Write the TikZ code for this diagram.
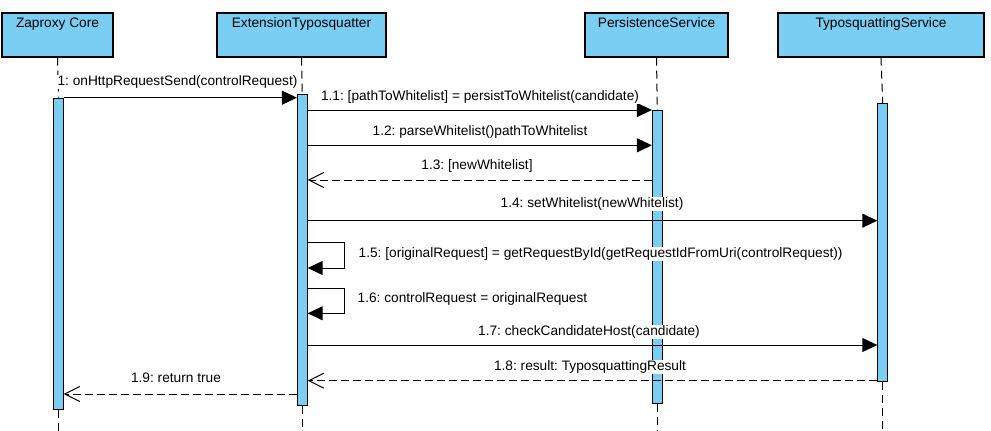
\documentclass[tikz,border=0pt]{standalone}
\usepackage{fontspec}
\setmainfont{Liberation Sans}
\usetikzlibrary{arrows.meta}
\definecolor{lblue}{RGB}{122,206,244}
\begin{document}
\begin{tikzpicture}[x=1pt,y=-1pt,
 head/.style={draw=black, line width=1.2pt, fill=lblue, minimum height=44pt, inner sep=0pt},
 headlbl/.style={anchor=north, inner sep=0pt, yshift=-4.5pt, text height=10pt, text depth=3pt, font=\fontsize{13.7}{16}\selectfont\frenchspacing},
 bar/.style={draw=black, line width=0.8pt, fill=lblue, minimum width=9.5pt, inner sep=0pt, anchor=north},
 life/.style={draw=black, line width=1pt, dash pattern=on 8pt off 5pt},
 msg/.style={draw=black, line width=1pt, -{Triangle[length=15pt,width=14pt]}},
 ret/.style={draw=black, line width=1pt, dash pattern=on 8pt off 4pt, -{Straight Barb[length=15pt,width=15pt]}},
 lbl/.style={anchor=base, fill=white, inner sep=0.5pt, text height=10pt, text depth=3pt, font=\fontsize{13.7}{16}\selectfont\frenchspacing},
 lblw/.style={lbl, anchor=base west}
]
\useasboundingbox (0,0) rectangle (991,431);
\coordinate (bot) at (0,431);
% headers
\node[head, minimum width=111pt, label={[headlbl]north:Zaproxy Core}] (zap) at (57.5,35) {};
\node[head, minimum width=169pt, label={[headlbl]north:ExtensionTyposquatter}] (ext) at (301.5,35) {};
\node[head, minimum width=143pt, label={[headlbl]north:PersistenceService}] (pers) at (656.5,35) {};
\node[head, minimum width=206pt, label={[headlbl]north:TyposquattingService}] (typ) at (881,35) {};
% activation bars
\node[bar, minimum height=311.5pt] (zapbar) at (58.5,97.5) {};
\node[bar, minimum height=311pt, minimum width=10pt] (extbar) at (302.3,94) {};
\node[bar, minimum height=293.3pt, minimum width=10pt] (persbar) at (657.3,110) {};
\node[bar, minimum height=277.7pt, minimum width=10pt] (typbar) at (882.7,103) {};
% lifelines
\draw[life] (zap.south) -- (zapbar.north);
\draw[life] (zapbar.south) -- (zapbar.south |- bot);
\draw[life] (ext.south) -- (extbar.north);
\draw[life] (extbar.south) -- (extbar.south |- bot);
\draw[life] (pers.south) -- (persbar.north);
\draw[life] (persbar.south) -- (persbar.south |- bot);
\draw[life] (typ.south) -- (typbar.north);
\draw[life] (typbar.south) -- (typbar.south |- bot);
% message rows
\coordinate (m1) at (0,97.7);
\coordinate (m11) at (0,110);
\coordinate (m12) at (0,145.3);
\coordinate (m13) at (0,180);
\coordinate (m14) at (0,220.7);
\coordinate (m15a) at (0,242.7);
\coordinate (m15b) at (0,268);
\coordinate (m16a) at (0,288.3);
\coordinate (m16b) at (0,313.3);
\coordinate (m17) at (0,345);
\coordinate (m18) at (0,380.7);
\coordinate (m19) at (0,394);
% messages
\draw[msg] (zapbar.east |- m1) -- (extbar.west |- m1);
\draw[msg] (extbar.east |- m11) -- (persbar.west |- m11);
\draw[msg] (extbar.east |- m12) -- (persbar.west |- m12);
\draw[ret] (persbar.west |- m13) -- (extbar.east |- m13);
\draw[msg] (extbar.east |- m14) -- (typbar.west |- m14);
\draw[msg] (extbar.east |- m15a) -- ++(37,0) |- (extbar.east |- m15b);
\draw[msg] (extbar.east |- m16a) -- ++(37,0) |- (extbar.east |- m16b);
\draw[msg] (extbar.east |- m17) -- (typbar.west |- m17);
\draw[ret] (typbar.west |- m18) -- (extbar.east |- m18);
\draw[ret] (extbar.west |- m19) -- (zapbar.east |- m19);
% labels
\node[lbl] (l1) at (177.5,85.5) {1: onHttpRequestSend(controlRequest)};
\node[lbl] (l11) at (480,100.5) {1.1: [pathToWhitelist] = persistToWhitelist(candidate)};
\node[lbl] (l12) at (480,135) {1.2: parseWhitelist()pathToWhitelist};
\node[lbl] (l13) at (477,169.5) {1.3: [newWhitelist]};
\node[lbl] (l14) at (592,207) {1.4: setWhitelist(newWhitelist)};
\node[lblw] (l15) at (358,257.3) {1.5: [originalRequest] = getRequestById(getRequestIdFromUri(controlRequest))};
\node[lblw] (l16) at (357,302.3) {1.6: controlRequest = originalRequest};
\node[lbl] (l17) at (589,335.5) {1.7: checkCandidateHost(candidate)};
\node[lbl] (l18) at (590,370) {1.8: result: TyposquattingResult};
\node[lbl] (l19) at (176,382) {1.9: return true};
\end{tikzpicture}
\end{document}
